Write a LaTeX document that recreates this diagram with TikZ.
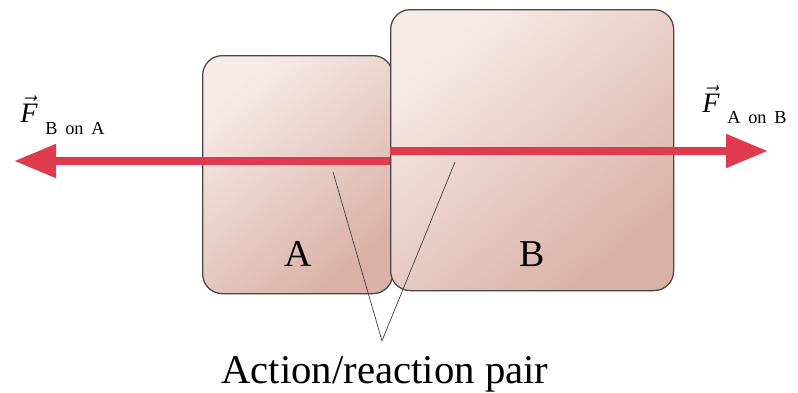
\documentclass[tikz,border=0pt]{standalone}
\usepackage{fontspec}
\setmainfont{Liberation Serif}
\usetikzlibrary{arrows.meta, positioning}
\definecolor{ForceRed}{HTML}{E03A4E}
\definecolor{BlockLight}{HTML}{F7EBE7}
\definecolor{BlockDark}{HTML}{D9B1A6}
\definecolor{EdgeGray}{HTML}{4A4646}

\begin{document}
\begin{tikzpicture}[
      block/.style={draw=EdgeGray, line width=0.9pt, rounded corners=14pt,
                    top color=BlockLight, bottom color=BlockDark, shading angle=40,
                    anchor=north west, inner sep=0pt},
      force/.style={ForceRed, line width=0.2cm, -{Triangle[length=1.05cm, width=0.8cm]}},
      forcelabel/.style={anchor=base west, inner sep=0pt},
      pairline/.style={draw=black!75, line width=0.5pt}]
      \useasboundingbox (0,0) rectangle (19.95,9.8);
      % Blocks
      \node[block, minimum width=4.75cm,  minimum height=5.95cm]  (blockA) at (5.05,8.425) {};
      \node[block, minimum width=7.075cm, minimum height=7.025cm] (blockB) at (9.75,9.575) {};
      \node[font=\fontsize{27}{30}\selectfont] (labA) at (7.45,3.45) {A};
      \node[font=\fontsize{27}{30}\selectfont] (labB) at (13.3,3.45) {B};
      % Forces -- both start at the contact face
      \coordinate (tipL) at (0.35,5.775);
      \coordinate (tipR) at (19.2,6.025);
      \draw[force] (blockB.west |- tipL) -- (tipL);
      \draw[force] (blockB.west |- tipR) -- (tipR);
      \node[forcelabel] (fBA) at (0.5,6.75)
        {\fontsize{20}{24}\selectfont$\vec{\mbox{\itshape F}}$\hspace{0.2cm}\fontsize{13}{15}\selectfont\raisebox{-0.3cm}{\spaceskip=0.42em B on A}};
      \node[forcelabel] (fAB) at (17.55,7.0)
        {\fontsize{20}{24}\selectfont$\vec{\mbox{\itshape F}}$\hspace{0.2cm}\fontsize{13}{15}\selectfont\raisebox{-0.28cm}{\spaceskip=0.42em A on B}};
      % Action/reaction pair
      \node[font=\fontsize{29}{32}\selectfont, anchor=base, inner sep=0pt] (pair) at (9.62,0.22) {Action/reaction pair};
      \coordinate (apex) at (9.55,1.28);
      \coordinate (endA) at (8.325,5.5);
      \coordinate (endB) at (11.375,5.75);
      \draw[pairline] (endA) -- (apex) -- (endB);
    \end{tikzpicture}
\end{document}
